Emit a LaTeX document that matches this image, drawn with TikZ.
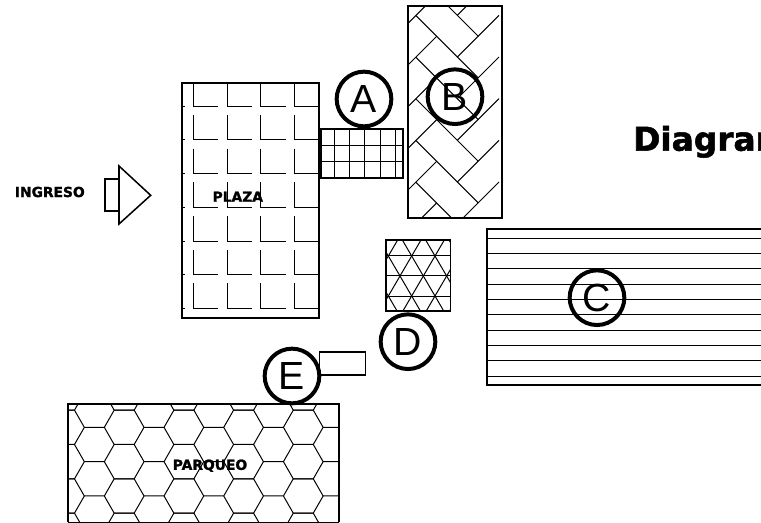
\documentclass[tikz,border=0pt]{standalone}
\usepackage{fontspec}
\setmainfont{Liberation Sans}
\setsansfont{DejaVu Sans}[BoldFeatures={FakeBold=1.6}]
\newfontfamily\tagfont{Liberation Sans}
\begin{document}
\begin{tikzpicture}[x=0.3mm, y=-0.3mm,
    wall/.style={line width=1.6pt, line join=miter},
    hatch/.style={line width=0.85pt},
    tag/.style={circle, draw, line width=3.4pt, minimum size=16.4mm, inner sep=0pt,
      font=\tagfont\fontsize{33.5}{34}\selectfont},
    zonelabel/.style={inner sep=0pt, font=\sffamily\bfseries\fontsize{11.8}{12}\selectfont}]
  \clip[use as bounding box] (0,0) rectangle (761,523);

  % ---------------- ingreso ----------------
  \node[zonelabel] (ingreso) at (49.8,192) {INGRESO};
  \draw[line width=1.3pt] (119,166) -- (150.7,195.3) -- (119,224) -- cycle;
  \draw[wall] (119,179.3) rectangle (104.7,211);

  % ---------------- plaza ----------------
  \begin{scope}
    \clip (182,83) rectangle (319,318);
    \foreach \i in {-1,...,3}
      \foreach \j in {0,...,6}
        \draw[hatch] ({193.3+33.7*\i},{81.3+33.7*\j}) -- ++(0,25) -- ++(25,0);
  \end{scope}
  \draw[wall] (182,83) rectangle (319,318);
  \node[zonelabel] (plaza) at (237.8,196.7) {PLAZA};

  % ---------------- A, square grid ----------------
  \foreach \i in {0,...,4}
    \draw[hatch] ({334.3+15.33*\i},128.7) -- ({334.3+15.33*\i},177.7);
  \foreach \y in {146,161.7}
    \draw[hatch] (320.7,\y) -- (403.3,\y);
  \draw[wall] (320.7,128.7) rectangle (403.3,177.7);
  \node[tag] (tagA) at (364,99) {A};

  % ---------------- B, herringbone ----------------
  \begin{scope}
    \clip (407.7,6.3) rectangle (501.7,218.3);
    \foreach \k in {-1,...,4}
      \draw[hatch] (416,{15.67+41.67*\k}) -- ++(62.33,62.33);
    \foreach \k in {-4,...,1}
      \draw[hatch] (457.33,{182+41.67*\k}) -- ++(41.67,-41.67);
    \foreach \k in {-3,...,2}
      \draw[hatch] (395,{161.33+41.67*\k}) -- ++(41.67,-41.67);
  \end{scope}
  \draw[wall] (407.7,6.3) rectangle (501.7,218.3);
  \node[tag] (tagB) at (455,96.7) {B};

  % ---------------- C, horizontal lines ----------------
  \foreach \k in {0,...,9}
    \draw[hatch] (486.7,{238.33+15.3*\k}) -- (762,{238.33+15.3*\k});
  \draw[wall] (762,229) -- (486.7,229) -- (486.7,385.3) -- (762,385.3);
  \node[tag] (tagC) at (597,297.7) {C};

  % ---------------- D, triangles ----------------
  \begin{scope}
    \clip (386,240) rectangle (450.5,311);
    \foreach \y in {256,276,296}
      \draw[hatch] (386,\y) -- (450.5,\y);
    \foreach \i in {-4,...,6} {
      \draw[hatch] ({388.33+23.33*\i},256) -- ++(-11.67,-20) -- ++(46.67,80);
      \draw[hatch] ({388.33+23.33*\i},256) -- ++(11.67,-20) -- ++(-46.67,80);
    }
  \end{scope}
  \draw[wall] (386,240) rectangle (450.5,311);
  \node[tag] (tagD) at (408,341.7) {D};

  % ---------------- E ----------------
  \draw[line width=1.1pt] (319.3,352) rectangle (365.7,375);
  \node[tag] (tagE) at (292,376) {E};

  % ---------------- parqueo, hexagons ----------------
  \begin{scope}
    \clip (68.3,404) rectangle (338.7,522.5);
    \foreach \i in {-1,...,4}
      \foreach \j in {-1,...,3}
        \draw[hatch] ({84.33+59.7*\i},{427.33+34.33*\j}) -- ++(20,0) -- ++(9.85,-17.17) -- ++(20,0)
          -- ++(9.85,17.17) -- ++(-9.85,17.17) -- ++(-20,0) -- ++(-9.85,-17.17);
  \end{scope}
  \draw[wall] (68.3,522.5) -- (68.3,404) -- (338.7,404) -- (338.7,522.5);
  \draw[hatch] (68.3,522.5) -- (338.7,522.5);
  \node[zonelabel] (parqueo) at (210,465.7) {PARQUEO};

  % ---------------- title ----------------
  \node[anchor=base west, inner sep=0pt, font=\sffamily\bfseries\fontsize{28}{29}\selectfont]
    (title) at (633,150.7) {Diagram};
\end{tikzpicture}
\end{document}
